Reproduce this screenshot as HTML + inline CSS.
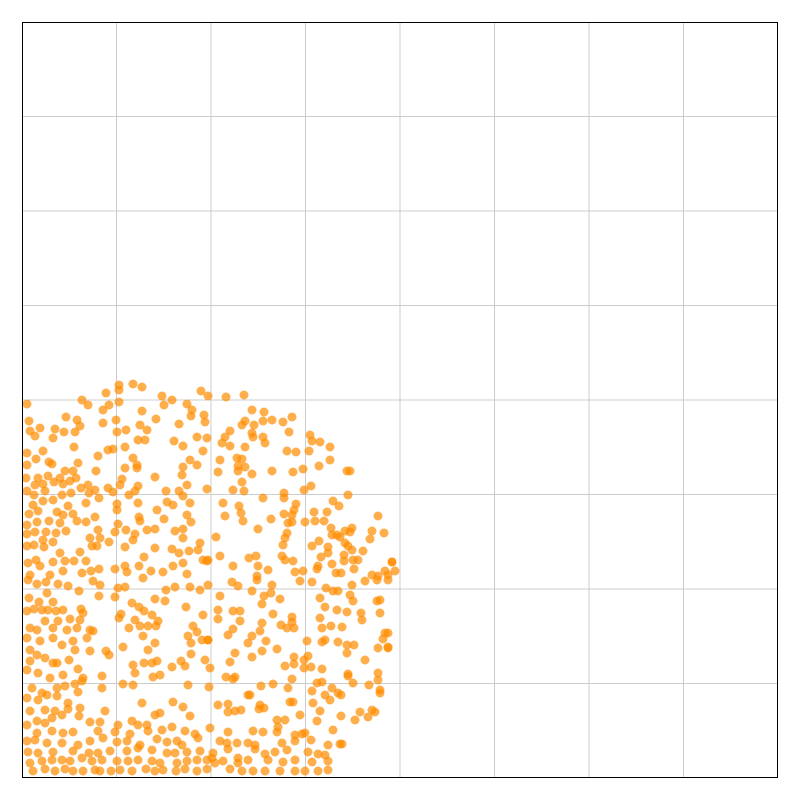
<!DOCTYPE html>
<html><head><meta charset="utf-8"><style>
html,body{margin:0;padding:0;background:#fff;width:800px;height:800px;overflow:hidden}
svg{display:block}
</style></head><body>
<svg id="chart" width="800" height="800" viewBox="0 0 800 800" xmlns="http://www.w3.org/2000/svg">
<defs><clipPath id="clip"><rect x="22" y="22" width="756" height="756"/></clipPath></defs>
<rect x="22" y="22" width="756" height="756" fill="#fff"/>
<g id="grid"></g>
<g id="points" clip-path="url(#clip)"></g>
<rect x="22.5" y="22.5" width="755" height="755" fill="none" stroke="#000" stroke-width="1"/>
</svg>
<script>
const xDomain = [0, 756];
const yDomain = [0, 756];
const xTicks = [94.5, 189, 283.5, 378, 472.5, 567, 661.5];
const yTicks = [94.5, 189, 283.5, 378, 472.5, 567, 661.5];
const xs = [97,111,120,84,97,60,66,5,81,87,97,140,150,142,165,170,179,120,134,44,55,7,94,81,118,125,157,169,182,183,104,95,58,33,18,8,13,31,42,53,116,123,152,161,175,185,52,21,5,103,86,91,76,111,115,181,168,175,161,14,27,30,5,56,74,43,51,103,115,133,160,4,16,26,38,48,54,13,21,32,41,100,98,116,165,185,59,66,73,86,91,107,113,144,157,161,5,12,23,40,49,67,77,11,21,31,46,64,95,116,145,151,168,7,16,35,41,51,95,135,165,5,15,27,38,55,64,73,118,117,142,169,96,5,13,24,34,44,76,93,104,113,125,133,153,161,21,31,68,78,87,70,111,161,5,12,22,38,58,75,103,133,150,157,167,178,176,122,6,14,18,31,43,52,64,161,181,185,103,117,129,141,151,165,8,28,41,60,69,77,93,105,
204,222,186,230,242,241,250,223,220,232,261,270,267,230,231,241,243,208,203,200,208,223,265,274,288,290,298,308,287,308,297,325,328,198,215,220,216,223,216,196,230,250,271,281,220,211,222,282,289,326,262,262,241,201,217,219,203,221,249,274,272,262,270,266,270,283,311,317,292,305,293,302,356,236,194,265,263,261,309,310,315,318,323,330,328,350,362,348,297,290,306,306,323,326,330,341,322,299,227,234,198,260,263,271,310,322,331,336,370,211,236,246,295,296,332,273,281,314,319,350,356,363,373,235,186,
6,15,24,36,46,57,71,78,77,93,96,103,121,133,143,144,153,164,168,178,7,17,25,31,5,12,20,26,34,41,59,61,110,117,122,130,136,99,97,113,181,8,15,23,36,48,58,31,45,55,68,71,107,118,126,134,171,175,5,18,31,40,51,65,121,133,126,101,166,169,180,186,8,15,23,35,31,47,53,68,84,87,169,183,8,5,16,28,41,56,61,80,111,113,122,130,135,150,159,163,131,138,10,20,25,35,43,53,60,56,80,101,111,166,5,16,35,46,8,23,33,46,58,120,151,161,133,138,168,5,15,23,30,40,57,68,78,83,96,110,116,125,150,15,30,41,51,76,93,108,126,140,163,173,5,13,25,40,56,68,81,95,105,118,135,145,155,160,176,6,16,31,40,51,67,76,88,105,116,130,145,153,165,178,8,20,30,48,60,70,80,95,106,116,130,138,155,165,175,185,11,23,33,43,51,61,73,78,89,98,110,124,133,141,154,163,175,185,
186,210,216,235,250,278,290,304,311,316,328,331,330,343,355,366,198,196,211,218,196,230,242,249,258,240,251,270,270,259,265,272,218,240,238,211,206,186,230,226,244,240,213,230,208,298,303,315,325,339,340,358,355,298,300,309,320,366,361,366,356,282,285,286,295,300,303,316,325,332,325,343,272,255,263,272,282,289,300,326,326,331,347,356,356,358,266,204,213,211,239,251,187,188,270,290,300,310,316,319,303,308,291,271,268,206,228,226,238,242,196,206,219,237,213,255,263,278,295,298,319,350,338,346,333,311,188,206,231,241,255,256,273,280,283,289,198,205,215,226,233,260,273,306,318,320,191,206,216,233,243,253,265,286,296,303,190,201,216,226,246,261,273,290,306,193,208,220,231,243,258,273,283,296,306];
const ys = [393,394,391,385,388,378,373,374,368,373,376,382,378,373,374,368,387,367,359,361,358,357,358,355,353,348,354,362,363,356,348,346,352,349,350,347,342,340,346,346,338,338,337,332,341,340,331,327,325,331,328,329,322,320,313,327,318,313,311,319,316,314,313,315,307,307,307,310,310,301,303,300,300,302,300,297,300,293,294,296,294,299,293,292,293,289,290,293,288,290,286,283,287,287,287,282,287,283,287,283,285,285,280,273,277,278,272,275,274,275,276,273,275,264,267,266,263,264,268,268,263,253,256,257,255,257,256,261,257,261,259,256,254,244,246,246,245,247,248,246,248,244,248,249,247,249,238,236,240,240,236,232,238,240,232,233,231,225,226,232,231,230,229,225,227,235,228,221,215,218,212,216,217,217,217,215,218,217,212,212,207,206,212,204,203,203,207,205,207,209,209,206,
381,383,382,368,366,357,358,357,353,353,356,361,346,345,341,341,335,347,341,335,332,331,327,326,343,337,336,331,327,318,312,307,307,318,320,319,312,311,307,306,304,307,306,309,296,288,287,288,292,283,285,280,280,275,272,265,262,257,259,274,268,264,263,255,256,256,277,272,266,266,257,257,262,249,241,245,240,233,250,243,243,241,247,250,246,247,245,239,237,232,231,225,235,232,228,227,223,221,220,222,222,222,218,217,214,217,218,218,216,212,212,208,209,212,209,206,207,205,205,203,202,207,207,202,218,
198,194,196,194,192,187,197,193,182,181,190,191,200,179,177,188,191,171,191,188,180,176,185,176,167,169,168,168,167,168,169,165,175,171,167,163,157,164,160,158,163,150,148,157,157,159,158,150,148,150,148,147,150,152,152,152,152,146,140,137,140,133,137,140,142,135,128,131,142,135,138,138,128,123,120,115,115,118,128,127,127,123,124,118,117,108,105,100,103,109,100,102,113,105,115,115,117,111,117,112,101,103,90,85,83,90,92,94,97,86,90,94,93,93,80,78,82,75,67,68,67,69,70,75,76,71,63,65,62,53,57,55,60,63,62,56,56,67,53,57,53,53,51,45,47,45,46,47,46,44,47,48,47,44,37,38,35,35,33,37,40,36,37,33,39,36,37,33,40,26,25,26,18,27,25,25,27,27,30,28,25,25,26,27,15,17,18,17,20,17,18,17,17,18,17,15,15,17,18,18,7,9,7,9,7,7,8,7,7,8,7,9,7,8,7,9,7,9,
193,196,192,198,193,197,196,190,187,187,183,177,193,197,198,198,182,168,167,167,159,187,182,185,179,174,164,161,156,153,150,150,157,155,147,149,143,138,142,135,137,127,125,121,116,180,171,168,166,165,158,165,177,160,150,152,151,145,139,131,130,118,137,122,95,136,138,136,125,133,133,118,121,129,112,114,110,111,109,102,104,95,93,98,105,85,90,101,101,99,92,94,91,110,99,87,96,90,85,83,83,78,75,76,76,74,83,83,73,70,73,66,68,69,67,58,58,63,57,67,62,68,66,61,58,48,50,46,47,46,46,51,43,44,45,38,37,35,35,35,33,35,37,33,34,34,25,29,20,29,24,26,28,26,24,23,20,17,15,18,18,16,18,16,17,15,9,7,7,7,7,7,7,7,8,11];
const edgeXs = [370,366,358,363,366,358,353];
const edgeYs = [216,203,178,145,130,88,66];
function sx(v){ return 22 + (v - xDomain[0]) / (xDomain[1] - xDomain[0]) * 756; }
function sy(v){ return 778 - (v - yDomain[0]) / (yDomain[1] - yDomain[0]) * 756; }
const NS = 'http://www.w3.org/2000/svg';
const grid = document.getElementById('grid');
xTicks.forEach(t => {
  const l = document.createElementNS(NS, 'line');
  
  
  l.setAttribute('x1', sx(t)); l.setAttribute('x2', sx(t));
  l.setAttribute('y1', 22); l.setAttribute('y2', 778);
  l.setAttribute('stroke', '#cccccc'); l.setAttribute('stroke-width', '1');
  grid.appendChild(l);
});
yTicks.forEach(t => {
  const l = document.createElementNS(NS, 'line');
  
  
  l.setAttribute('y1', sy(t)); l.setAttribute('y2', sy(t));
  l.setAttribute('x1', 22); l.setAttribute('x2', 778);
  l.setAttribute('stroke', '#cccccc'); l.setAttribute('stroke-width', '1');
  grid.appendChild(l);
});
const pts = document.getElementById('points');
function drawSeries(X, Y) {
  const n = Math.min(X.length, Y.length);
  for (let i = 0; i < n; i++) {
    const c = document.createElementNS(NS, 'circle');
    
    
    c.setAttribute('cx', sx(X[i]));
    c.setAttribute('cy', sy(Y[i]));
    c.setAttribute('r', 4.5);
    c.setAttribute('fill', '#ff8c00');
    c.setAttribute('fill-opacity', '0.7');
    pts.appendChild(c);
  }
}
drawSeries(xs, ys);
drawSeries(edgeXs, edgeYs);
</script>
</body></html>
